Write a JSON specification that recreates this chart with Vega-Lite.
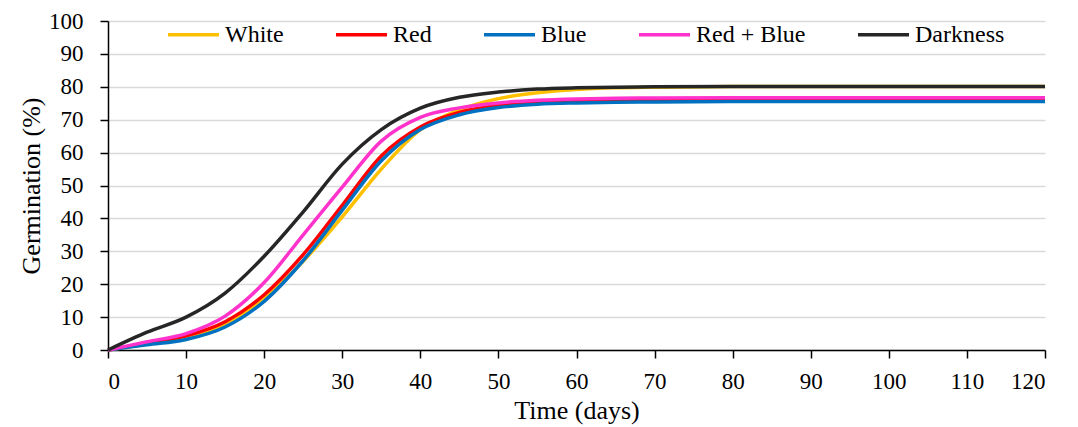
{
  "$schema": "https://vega.github.io/schema/vega-lite/v6.json",
  "width": 937,
  "height": 329,
  "autosize": "none",
  "padding": {"left": 108, "top": 21, "right": 33, "bottom": 77},
  "background": "white",
  "config": {
    "view": {"stroke": null},
    "font": "Liberation Serif",
    "axis": {
      "labelFont": "Liberation Serif, serif",
      "titleFont": "Liberation Serif, serif",
      "labelFontSize": 23,
      "titleFontSize": 26,
      "titleFontWeight": "normal",
      "labelColor": "#000000",
      "titleColor": "#000000",
      "domainColor": "#000000",
      "domainWidth": 1.5,
      "tickColor": "#000000",
      "tickWidth": 1.5,
      "tickSize": 8,
      "gridColor": "#d9d9d9",
      "gridWidth": 1.5
    },
    "legend": {
      "labelFont": "Liberation Serif, serif",
      "labelFontSize": 24,
      "labelColor": "#000000"
    }
  },
  "data": {
    "values": [
      {"t": 0, "s": "White", "v": 0}, {"t": 5, "s": "White", "v": 1.8}, {"t": 10, "s": "White", "v": 3.8}, {"t": 15, "s": "White", "v": 8}, {"t": 20, "s": "White", "v": 15.8}, {"t": 25, "s": "White", "v": 27}, {"t": 30, "s": "White", "v": 40.5}, {"t": 35, "s": "White", "v": 55}, {"t": 40, "s": "White", "v": 67}, {"t": 45, "s": "White", "v": 73}, {"t": 50, "s": "White", "v": 76.4}, {"t": 55, "s": "White", "v": 78.2}, {"t": 60, "s": "White", "v": 79.2}, {"t": 65, "s": "White", "v": 79.7}, {"t": 70, "s": "White", "v": 79.9}, {"t": 80, "s": "White", "v": 80.1}, {"t": 90, "s": "White", "v": 80.1}, {"t": 100, "s": "White", "v": 80.1}, {"t": 110, "s": "White", "v": 80.1}, {"t": 120, "s": "White", "v": 80.1},
      {"t": 0, "s": "Red", "v": 0}, {"t": 5, "s": "Red", "v": 2.1}, {"t": 10, "s": "Red", "v": 4.3}, {"t": 15, "s": "Red", "v": 8.6}, {"t": 20, "s": "Red", "v": 16.8}, {"t": 25, "s": "Red", "v": 29}, {"t": 30, "s": "Red", "v": 44}, {"t": 35, "s": "Red", "v": 59}, {"t": 40, "s": "Red", "v": 67.8}, {"t": 45, "s": "Red", "v": 72.2}, {"t": 50, "s": "Red", "v": 74.3}, {"t": 55, "s": "Red", "v": 75.1}, {"t": 60, "s": "Red", "v": 75.5}, {"t": 65, "s": "Red", "v": 75.7}, {"t": 70, "s": "Red", "v": 75.8}, {"t": 80, "s": "Red", "v": 75.8}, {"t": 90, "s": "Red", "v": 75.8}, {"t": 100, "s": "Red", "v": 75.8}, {"t": 110, "s": "Red", "v": 75.8}, {"t": 120, "s": "Red", "v": 75.8},
      {"t": 0, "s": "Blue", "v": 0}, {"t": 5, "s": "Blue", "v": 1.6}, {"t": 10, "s": "Blue", "v": 3.2}, {"t": 15, "s": "Blue", "v": 7}, {"t": 20, "s": "Blue", "v": 14.8}, {"t": 25, "s": "Blue", "v": 27.2}, {"t": 30, "s": "Blue", "v": 42.5}, {"t": 35, "s": "Blue", "v": 57.5}, {"t": 40, "s": "Blue", "v": 67}, {"t": 45, "s": "Blue", "v": 71.5}, {"t": 50, "s": "Blue", "v": 73.7}, {"t": 55, "s": "Blue", "v": 74.7}, {"t": 60, "s": "Blue", "v": 75.1}, {"t": 65, "s": "Blue", "v": 75.3}, {"t": 70, "s": "Blue", "v": 75.4}, {"t": 80, "s": "Blue", "v": 75.5}, {"t": 90, "s": "Blue", "v": 75.5}, {"t": 100, "s": "Blue", "v": 75.5}, {"t": 110, "s": "Blue", "v": 75.5}, {"t": 120, "s": "Blue", "v": 75.5},
      {"t": 0, "s": "Red + Blue", "v": 0}, {"t": 5, "s": "Red + Blue", "v": 2.5}, {"t": 10, "s": "Red + Blue", "v": 5}, {"t": 15, "s": "Red + Blue", "v": 10.3}, {"t": 20, "s": "Red + Blue", "v": 20.5}, {"t": 25, "s": "Red + Blue", "v": 35}, {"t": 30, "s": "Red + Blue", "v": 49.5}, {"t": 35, "s": "Red + Blue", "v": 63.5}, {"t": 40, "s": "Red + Blue", "v": 70.7}, {"t": 45, "s": "Red + Blue", "v": 73.6}, {"t": 50, "s": "Red + Blue", "v": 75.1}, {"t": 55, "s": "Red + Blue", "v": 75.9}, {"t": 60, "s": "Red + Blue", "v": 76.3}, {"t": 65, "s": "Red + Blue", "v": 76.5}, {"t": 70, "s": "Red + Blue", "v": 76.6}, {"t": 80, "s": "Red + Blue", "v": 76.7}, {"t": 90, "s": "Red + Blue", "v": 76.7}, {"t": 100, "s": "Red + Blue", "v": 76.7}, {"t": 110, "s": "Red + Blue", "v": 76.7}, {"t": 120, "s": "Red + Blue", "v": 76.7},
      {"t": 0, "s": "Darkness", "v": 0}, {"t": 5, "s": "Darkness", "v": 5.4}, {"t": 10, "s": "Darkness", "v": 10}, {"t": 15, "s": "Darkness", "v": 17.3}, {"t": 20, "s": "Darkness", "v": 28.5}, {"t": 25, "s": "Darkness", "v": 42}, {"t": 30, "s": "Darkness", "v": 56.5}, {"t": 35, "s": "Darkness", "v": 67}, {"t": 40, "s": "Darkness", "v": 73.5}, {"t": 45, "s": "Darkness", "v": 76.8}, {"t": 50, "s": "Darkness", "v": 78.4}, {"t": 55, "s": "Darkness", "v": 79.3}, {"t": 60, "s": "Darkness", "v": 79.7}, {"t": 65, "s": "Darkness", "v": 79.9}, {"t": 70, "s": "Darkness", "v": 80}, {"t": 80, "s": "Darkness", "v": 80.1}, {"t": 90, "s": "Darkness", "v": 80.1}, {"t": 100, "s": "Darkness", "v": 80.1}, {"t": 110, "s": "Darkness", "v": 80.1}, {"t": 120, "s": "Darkness", "v": 80.1}
    ]
  },
  "mark": {"type": "line", "interpolate": "monotone", "strokeWidth": 3.5},
  "encoding": {
    "x": {
      "field": "t",
      "type": "quantitative",
      "title": "Time (days)",
      "scale": {"domain": [0, 120], "nice": false},
      "axis": {"values": [0, 10, 20, 30, 40, 50, 60, 70, 80, 90, 100, 110, 120], "grid": false, "labelPadding": 12, "titlePadding": 4}
    },
    "y": {
      "field": "v",
      "type": "quantitative",
      "title": "Germination (%)",
      "scale": {"domain": [0, 100], "nice": false},
      "axis": {"values": [0, 10, 20, 30, 40, 50, 60, 70, 80, 90, 100], "grid": true, "labelPadding": 17, "titlePadding": 4}
    },
    "color": {
      "field": "s",
      "type": "nominal",
      "sort": ["White", "Red", "Blue", "Red + Blue", "Darkness"],
      "scale": {
        "domain": ["White", "Red", "Blue", "Red + Blue", "Darkness"],
        "range": ["#FFC000", "#FF0000", "#0070C0", "#FF33CC", "#262626"]
      },
      "legend": {
        "title": null,
        "orient": "none",
        "legendX": 58,
        "legendY": -14,
        "direction": "horizontal",
        "symbolType": "stroke",
        "symbolSize": 2600,
        "symbolStrokeWidth": 3.5,
        "labelOffset": 4,
        "columnPadding": 45,
        "padding": 0
      }
    }
  }
}
